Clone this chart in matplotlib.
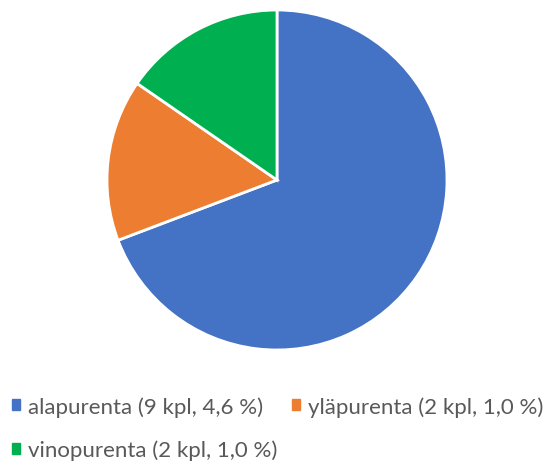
import matplotlib
matplotlib.use("Agg")
import matplotlib.pyplot as plt
from matplotlib.patches import Patch

labels = ["alapurenta (9 kpl, 4,6 %)", "yläpurenta (2 kpl, 1,0 %)", "vinopurenta (2 kpl, 1,0 %)"]
values = [9, 2, 2]
colors = ["#4472C4", "#ED7D31", "#00B050"]

plt.rcParams['font.family'] = ['Lato', 'DejaVu Sans']
fig = plt.figure(figsize=(5.44, 4.64), dpi=100)
ax = fig.add_axes([107/544, (464-351)/464, 340/544, 340/464])
ax.pie(values, colors=colors, startangle=90, counterclock=False,
       wedgeprops=dict(edgecolor="white", linewidth=2))
ax.set_aspect("equal")
ax.set_xlim(-1, 1); ax.set_ylim(-1, 1)

handles = [Patch(color=c) for c in colors]
order = [0, 2, 1]
fig.legend([handles[i] for i in order], [labels[i] for i in order], ncol=2,
           loc="upper left", bbox_to_anchor=(12/544, 1 - 397/464), frameon=False,
           fontsize=16, labelcolor="#595959", handlelength=0.38, handleheight=0.38,
           handletextpad=0.36, columnspacing=0.62, labelspacing=1.03,
           borderaxespad=0, borderpad=0)
fig.savefig("out.png", dpi=100)
